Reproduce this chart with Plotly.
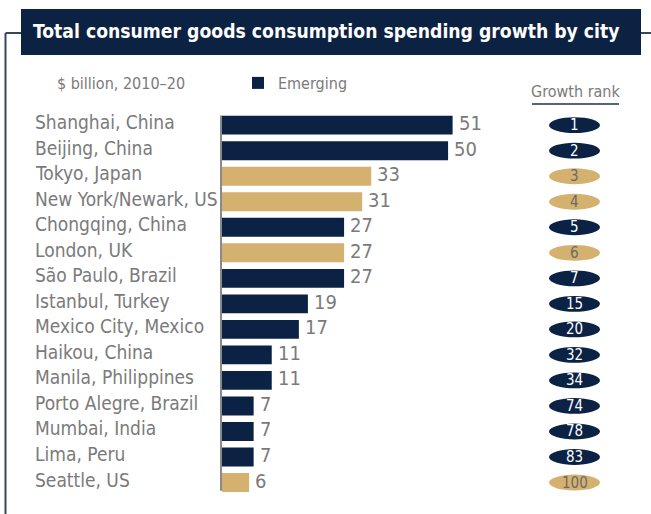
import plotly.graph_objects as go

cities = ["Shanghai, China", "Beijing, China", "Tokyo, Japan", "New York/Newark, US",
          "Chongqing, China", "London, UK", "São Paulo, Brazil", "Istanbul, Turkey",
          "Mexico City, Mexico", "Haikou, China", "Manila, Philippines",
          "Porto Alegre, Brazil", "Mumbai, India", "Lima, Peru", "Seattle, US"]
values = [51, 50, 33, 31, 27, 27, 27, 19, 17, 11, 11, 7, 7, 7, 6]
ranks = [1, 2, 3, 4, 5, 6, 7, 15, 20, 32, 34, 74, 78, 83, 100]
emerging = [True, True, False, False, True, False, True, True, True, True, True,
            True, True, True, False]

NAVY = "#0b2244"
GOLD = "#d4b16e"
GRAY = "#7a7a7a"
FONT = "Liberation Sans Narrow, DejaVu Sans Condensed, Arial Narrow, sans-serif"
W, H = 651, 514

def px(x):
    return x / W

def py(y):
    return 1 - y / H

idx = list(range(len(cities)))
em_i = [i for i in idx if emerging[i]]
dv_i = [i for i in idx if not emerging[i]]

fig = go.Figure()
fig.add_trace(go.Bar(x=[values[i] for i in em_i], y=em_i, orientation="h",
                     marker=dict(color=NAVY, line=dict(width=0)), width=0.74,
                     name="Emerging", showlegend=True))
fig.add_trace(go.Bar(x=[values[i] for i in dv_i], y=dv_i, orientation="h",
                     marker=dict(color=GOLD, line=dict(width=0)), width=0.74,
                     name="Developed", showlegend=False))

annotations = []
shapes = []
for i in idx:
    annotations.append(dict(x=px(33), xref="paper", y=i, yref="y", text=cities[i],
                            xanchor="left", yanchor="middle", showarrow=False,
                            font=dict(family=FONT, size=19, color=GRAY), yshift=3))
    annotations.append(dict(x=values[i], xref="x", y=i, yref="y", text=str(values[i]),
                            xanchor="left", yanchor="middle", showarrow=False,
                            xshift=4, yshift=2,
                            font=dict(family=FONT, size=20, color=GRAY)))
    shapes.append(dict(type="circle", xref="paper", yref="y", x0=px(549), x1=px(600),
                       y0=i - 0.31, y1=i + 0.31,
                       fillcolor=NAVY if emerging[i] else GOLD, line=dict(width=0)))
    annotations.append(dict(x=px(574.5), xref="paper", y=i, yref="y", text=str(ranks[i]),
                            xanchor="center", yanchor="middle", showarrow=False,
                            font=dict(family=FONT, size=15,
                                      color="white" if emerging[i] else "#6a6a6a")))

# title box and frame
shapes.append(dict(type="rect", xref="paper", yref="paper", x0=px(21), x1=px(641),
                   y0=py(55), y1=py(9), fillcolor="#0c2242", line=dict(width=0)))
FRAME = "#3a4562"
shapes.append(dict(type="line", xref="paper", yref="paper", x0=px(5.5), x1=px(5.5),
                   y0=py(33), y1=0, line=dict(color=FRAME, width=2)))
shapes.append(dict(type="line", xref="paper", yref="paper", x0=px(5.5), x1=px(21),
                   y0=py(33), y1=py(33), line=dict(color=FRAME, width=2)))
shapes.append(dict(type="line", xref="paper", yref="paper", x0=px(641), x1=1,
                   y0=py(33), y1=py(33), line=dict(color=FRAME, width=2)))
# growth rank underline
shapes.append(dict(type="line", xref="paper", yref="paper", x0=px(532), x1=px(619),
                   y0=py(104), y1=py(104), line=dict(color="#5a6278", width=2)))

annotations.append(dict(x=px(326), xref="paper", y=py(31), yref="paper",
                        text="<b>Total consumer goods consumption spending growth by city</b>",
                        xanchor="center", yanchor="middle", showarrow=False,
                        font=dict(family=FONT, size=19.2, color="white")))
annotations.append(dict(x=px(55), xref="paper", y=py(84), yref="paper",
                        text="$ billion, 2010–20", xanchor="left", yanchor="middle",
                        showarrow=False, font=dict(family=FONT, size=16, color=GRAY)))
annotations.append(dict(x=px(575.5), xref="paper", y=py(91), yref="paper",
                        text="Growth rank", xanchor="center", yanchor="middle",
                        showarrow=False, font=dict(family=FONT, size=16, color=GRAY)))

fig.update_layout(
    width=W, height=H,
    margin=dict(l=0, r=0, t=0, b=0),
    paper_bgcolor="white", plot_bgcolor="white",
    barmode="overlay",
    showlegend=True,
    legend=dict(x=px(238), y=py(83), xanchor="left", yanchor="middle",
                font=dict(family=FONT, size=16, color=GRAY), bgcolor="rgba(0,0,0,0)"),
    xaxis=dict(domain=[px(222), 0.98], range=[0, 92], visible=False, fixedrange=True),
    yaxis=dict(domain=[py(495.3), py(112.4)], range=[14.5, -0.5], showticklabels=False,
               showgrid=False, zeroline=False, showline=False, ticks="", fixedrange=True),
    shapes=shapes,
    annotations=annotations,
)
# axis line along bar bases
fig.add_shape(type="line", xref="paper", yref="y", x0=px(221), x1=px(221),
              y0=-0.38, y1=14.32, line=dict(color="#8a8a8a", width=2))

fig.write_html("out.html", config={"displayModeBar": False},
               post_script="document.body.style.margin='0';document.body.style.padding='0';")
